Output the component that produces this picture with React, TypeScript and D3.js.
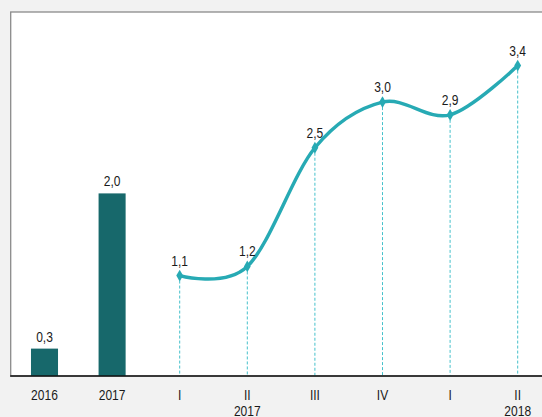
import React from "react";
import * as d3 from "d3";

// categories along the x axis (first two are annual bars, rest quarterly line)
const categories = ["2016", "2017", "I-17", "II-17", "III-17", "IV-17", "I-18", "II-18"];
const tickLabels = ["2016", "2017", "I", "II", "III", "IV", "I", "II"];
const yearLabels = ["", "", "", "2017", "", "", "", "2018"];

const barCats = ["2016", "2017"];
const barValues = [0.3, 2.0];

const lineCats = ["I-17", "II-17", "III-17", "IV-17", "I-18", "II-18"];
const lineValues = [1.1, 1.2, 2.5, 3.0, 2.86, 3.4];

const W = 542;
const H = 417;
const left = 10.7;
const top = 12;
const base = 376;
const step = 67.6;

const BAR = "#17686b";
const LINE = "#27aab4";
const DASH = "#45c1cb";
const FONT = "'Liberation Sans', Arial, sans-serif";
const FS = 14.5;

const fmt = (v: number) => v.toFixed(1).replace(".", ",");

// narrow-looking label: regular sans squeezed horizontally
function Label({ x, y, children }: { x: number; y: number; children: React.ReactNode }) {
  return (
    <text
      transform={`translate(${x},${y}) scale(0.83,1)`}
      textAnchor="middle"
      fontSize={FS}
      fill="#1a1a1a"
    >
      {children}
    </text>
  );
}

export default function App() {
  const x = d3
    .scaleBand<string>()
    .domain(categories)
    .range([left, left + categories.length * step])
    .padding(0);
  const cx = (c: string) => (x(c) as number) + x.bandwidth() / 2;
  const y = d3.scaleLinear().domain([0, 4]).range([base, 10.8]);
  const barW = x.bandwidth() * 0.4;

  const pts = lineCats.map((c, i) => [cx(c), y(lineValues[i])] as [number, number]);
  const line = d3.line().curve(d3.curveCardinal.tension(0))(pts) || "";
  const diamond = d3.symbol(d3.symbolDiamond, 40)() || "";

  return (
    <svg
      width={W}
      height={H}
      style={{ position: "absolute", left: 0, top: 0, display: "block" }}
      fontFamily={FONT}
    >
      <rect x={0} y={0} width={W} height={H} fill="#f2f2f2" />
      <rect x={left} y={top} width={W} height={base - top} fill="#fff" stroke="#8a8a8a" strokeWidth={1.3} />

      {barCats.map((c, i) => (
        <g key={c}>
          <rect x={cx(c) - barW / 2} y={y(barValues[i])} width={barW} height={base - y(barValues[i])} fill={BAR} />
          <Label x={cx(c)} y={y(barValues[i]) - 7}>{fmt(barValues[i])}</Label>
        </g>
      ))}

      {lineCats.map((c, i) => (
        <line
          key={c}
          x1={cx(c)}
          x2={cx(c)}
          y1={y(lineValues[i])}
          y2={base}
          stroke={DASH}
          strokeWidth={1}
          strokeDasharray="3,2"
        />
      ))}

      <path d={line} fill="none" stroke={LINE} strokeWidth={3.5} strokeLinecap="round" />
      {pts.map((p, i) => (
        <g key={i}>
          <path d={diamond} transform={`translate(${p[0]},${p[1]})`} fill={LINE} />
          <Label x={p[0]} y={p[1] - 10}>{fmt(lineValues[i])}</Label>
        </g>
      ))}

      <line x1={left - 0.5} x2={W} y1={base} y2={base} stroke="#111" strokeWidth={1.5} />

      {categories.map((c, i) => (
        <g key={c}>
          <Label x={cx(c)} y={400}>{tickLabels[i]}</Label>
          {yearLabels[i] && <Label x={cx(c)} y={416}>{yearLabels[i]}</Label>}
        </g>
      ))}
    </svg>
  );
}
